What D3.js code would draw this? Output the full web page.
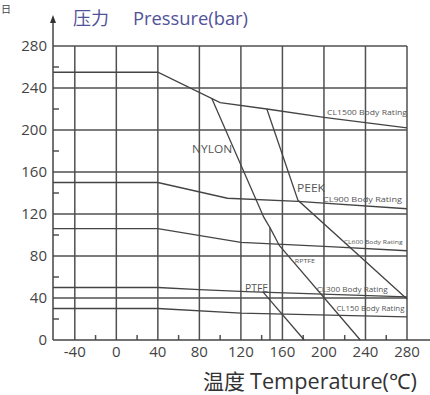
<!DOCTYPE html>
<html>
<head>
<meta charset="utf-8">
<script src="https://cdn.jsdelivr.net/npm/d3@7"></script>
<style>
body { margin: 0; background: #fff; }
svg { display: block; font-family: "Open Sans", "Noto Sans", sans-serif; }
</style>
</head>
<body>
<svg id="chart" width="430" height="395"></svg>
<script>
// ticks
var xTicks = [-40, 0, 40, 80, 120, 160, 200, 240, 280];
var yTicks = [0, 40, 80, 120, 160, 200, 240, 280];
var xMinor = [-20, 20, 60, 100, 140, 180, 220, 260];
var yMinor = [20, 60, 100, 140, 180, 220, 260];

// curves: [temperature, pressure]
var cl1500 = [[-61, 255], [40, 255], [100, 226], [145, 220], [200, 212], [280, 202]];
var cl900 = [[-61, 150], [40, 150], [107, 135], [175, 132], [280, 125]];
var cl600 = [[-61, 106], [40, 106], [120, 93], [205, 89], [280, 85]];
var cl300 = [[-61, 50], [40, 50], [80, 48], [125, 46], [280, 41]];
var cl150 = [[-61, 30], [40, 30], [120, 25.5], [280, 22]];
var nylon = [[92, 230], [142, 117], [148, 107], [148, 0]];
var peek = [[145, 220], [175, 133], [280, 39]];
var rptfe = [[148, 107], [157, 90], [235, 0]];
var ptfe = [[141, 46], [181, 0]];

var curves = [cl1500, cl900, cl600, cl300, cl150, nylon, peek, rptfe, ptfe];

// curve labels
var labelText = ["CL1500 Body Rating", "CL900 Body Rating", "CL600 Body Rating", "CL300 Body Rating", "CL150 Body Rating", "NYLON", "PEEK", "RPTFE", "PTFE"];
var labelT = [203, 199, 219, 193, 212, 73, 174, 172, 124];
var labelP = [214, 131, 91, 46, 28, 178, 141, 73, 46];
var labelSize = [6.5, 7.5, 6, 6.5, 6.5, 10, 11, 6, 10];
var labelW = [80, 79, 59, 71, 68, 40, 28, 20, 23];

var svg = d3.select("#chart");
var x = d3.scaleLinear().domain([-61, 280]).range([53, 407]);
var y = d3.scaleLinear().domain([0, 280]).range([340, 46]);

var grid = svg.append("g").attr("stroke", "#505050").attr("stroke-width", 1.5);

grid.selectAll(".hg").data(yTicks.slice(1))
  .enter().append("line")
  .attr("x1", x(-61)).attr("x2", x(280))
  .attr("y1", function(d) { return y(d); }).attr("y2", function(d) { return y(d); });

grid.selectAll(".vg").data(xTicks)
  .enter().append("line")
  .attr("x1", function(d) { return x(d); }).attr("x2", function(d) { return x(d); })
  .attr("y1", y(0)).attr("y2", y(280));

// minor ticks
grid.selectAll(".ym").data(yMinor)
  .enter().append("line")
  .attr("x1", x(-61)).attr("x2", x(-61) + 6)
  .attr("y1", function(d) { return y(d); }).attr("y2", function(d) { return y(d); });

grid.selectAll(".xm").data(xMinor)
  .enter().append("line")
  .attr("x1", function(d) { return x(d); }).attr("x2", function(d) { return x(d); })
  .attr("y1", y(0)).attr("y2", y(0) - 5);

// axes
svg.append("line").attr("x1", x(-61)).attr("x2", x(-61)).attr("y1", y(0)).attr("y2", 20)
  .attr("stroke", "#444").attr("stroke-width", 1.5);
svg.append("line").attr("x1", x(-61)).attr("x2", 432).attr("y1", y(0)).attr("y2", y(0))
  .attr("stroke", "#444").attr("stroke-width", 1.5);
svg.append("path").attr("d", "M" + x(-61) + ",15 l-3,8 l6,0 z").attr("fill", "#333");

// tick labels
svg.selectAll(".yl").data(yTicks)
  .enter().append("text")
  .attr("x", 47).attr("y", function(d) { return y(d); })
  .attr("dy", "0.35em").attr("text-anchor", "end")
  .attr("font-size", 15).attr("fill", "#444")
  .text(function(d) { return d; });

svg.selectAll(".xl").data(xTicks)
  .enter().append("text")
  .attr("x", function(d) { return x(d); }).attr("y", 357)
  .attr("text-anchor", "middle")
  .attr("font-size", 15).attr("fill", "#444")
  .text(function(d) { return d; });

// curves
var line = d3.line().x(function(d) { return x(d[0]); }).y(function(d) { return y(d[1]); });
svg.append("g").selectAll("path").data(curves)
  .enter().append("path")
  .attr("d", line)
  .attr("fill", "none").attr("stroke", "#444").attr("stroke-width", 1.3);

svg.append("g").selectAll("text").data(labelText)
  .enter().append("text")
  .attr("x", function(d, i) { return x(labelT[i]); })
  .attr("y", function(d, i) { return y(labelP[i]); })
  .attr("font-size", function(d, i) { return labelSize[i]; })
  .attr("textLength", function(d, i) { return labelW[i]; })
  .attr("lengthAdjust", "spacingAndGlyphs")
  .attr("fill", "#555")
  .text(function(d) { return d; });

// titles
svg.append("text").attr("x", 73).attr("y", 25).attr("font-size", 18).attr("fill", "#52529a")
  .attr("font-family", "Noto Sans CJK SC").text("压力");
svg.append("text").attr("x", 133).attr("y", 25).attr("font-size", 18).attr("fill", "#52529a")
  .attr("textLength", 115).attr("lengthAdjust", "spacingAndGlyphs")
  .text("Pressure(bar)");
svg.append("text").attr("x", 203).attr("y", 389).attr("font-size", 21).attr("fill", "#333")
  .attr("font-family", "Noto Sans CJK SC").text("温度");
svg.append("text").attr("x", 250).attr("y", 389).attr("font-size", 21).attr("fill", "#333")
  .attr("textLength", 167).attr("lengthAdjust", "spacingAndGlyphs")
  .text("Temperature(℃)");
svg.append("text").attr("x", 1).attr("y", 13).attr("font-size", 10).attr("fill", "#444")
  .attr("font-family", "Noto Sans CJK SC").text("日");
</script>
</body>
</html>
